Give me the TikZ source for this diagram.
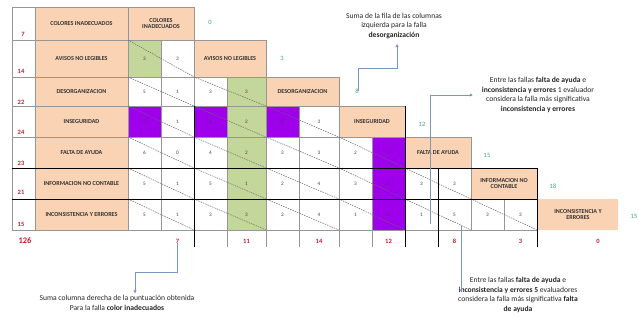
\documentclass[tikz,border=0pt]{standalone}
\usepackage{fontspec}
\setmainfont{Carlito}
\usetikzlibrary{arrows.meta}
\definecolor{orng}{RGB}{250,211,180}
\definecolor{grn}{RGB}{196,215,155}
\definecolor{prp}{RGB}{158,0,236}
\definecolor{gridc}{RGB}{150,150,150}
\definecolor{redn}{RGB}{200,30,45}
\definecolor{grnn}{RGB}{60,165,125}
\definecolor{arrc}{RGB}{120,150,190}
\begin{document}
\begin{tikzpicture}[x=1pt,y=-1pt,
  lbl/.style={font=\fontsize{6.1}{6.8}\selectfont\bfseries, text=black!80, align=center, inner sep=0},
  num/.style={font=\fontsize{5.2}{5.2}\selectfont, text=black!75, inner sep=0},
  rnum/.style={font=\fontsize{6.5}{7}\selectfont\bfseries, text=redn, inner sep=0},
  gnum/.style={font=\fontsize{6.5}{7}\selectfont, text=grnn, inner sep=0},
  note/.style={font=\fontsize{7.6}{9.6}\selectfont, align=center, inner sep=1pt, text=black!85},
  gl/.style={draw=gridc, line width=0.5pt},
  bl/.style={draw=black, line width=0.9pt},
  dg/.style={draw=black!60, dash pattern=on 1.5pt off 1pt, line width=0.5pt},
  arr/.style={draw=arrc, line width=0.8pt, -{Triangle[length=3pt,width=3pt]}}
]
\useasboundingbox (0,0) rectangle (639,327);
\fill[white] (0,0) rectangle (639,327);
% fills
\fill[orng] (35,7) rectangle (128,230);
\fill[orng] (128,7) rectangle (194,40);
\fill[orng] (194,40) rectangle (266,77);
\fill[orng] (266,77) rectangle (339,106);
\fill[orng] (339,106) rectangle (405,137);
\fill[orng] (405,137) rectangle (471,168);
\fill[orng] (471,168) rectangle (537,199);
\fill[orng] (538,199) rectangle (618,230);
\fill[grn] (128,40) rectangle (161,77);
\fill[grn] (227,77) rectangle (266,230);
\fill[prp] (128,106) rectangle (161,137);
\fill[prp] (194,106) rectangle (227,137);
\fill[prp] (266,106) rectangle (299,137);
\fill[prp] (372,137) rectangle (405,230);
% grid
\draw[gl] (12,7) -- (194,7);
\draw[gl] (12,40) -- (266,40);
\draw[gl] (12,77) -- (339,77);
\draw[gl] (12,106) -- (405,106);
\draw[gl] (12,137) -- (471,137);
\draw[gl] (12,230) -- (537,230);
\draw[gl] (12,7) -- (12,230);
\draw[gl] (35,7) -- (35,230);
\draw[gl] (128,7) -- (128,230);
\draw[gl] (161,40) -- (161,230);
\draw[gl] (194,7) -- (194,106);
\draw[gl] (227,77) -- (227,247);
\draw[gl] (266,40) -- (266,247);
\draw[gl] (299,106) -- (299,247);
\draw[gl] (339,77) -- (339,247);
\draw[gl] (372,137) -- (372,247);
\draw[gl] (471,137) -- (471,230);
\draw[gl] (504,199) -- (504,230);
% diagonals
\draw[dg] (128,40) -- (194,77) -- (266,106) -- (339,137) -- (405,168) -- (471,199) -- (537,230);
\draw[dg] (128,77) -- (194,106) -- (266,137) -- (339,168) -- (405,199) -- (471,230);
\draw[dg] (128,106) -- (194,137) -- (266,168) -- (339,199) -- (405,230);
\draw[dg] (128,137) -- (194,168) -- (266,199) -- (339,230);
\draw[dg] (128,168) -- (194,199) -- (266,230);
\draw[dg] (128,199) -- (194,230);
% black lines
\draw[bl] (12,168) -- (537,168);
\draw[bl] (12,199) -- (537,199);
\draw[bl] (194,106) -- (194,247);
\draw[bl] (405,106) -- (405,247);
\draw[bl] (438,168) -- (438,247);
\draw[bl] (537,168) -- (537,247);
% row labels
\node[lbl] (l1) at (81.5,23.5) {COLORES INADECUADOS};
\node[lbl] (l2) at (81.5,58.5) {AVISOS NO LEGIBLES};
\node[lbl] (l3) at (81.5,91.5) {DESORGANIZACION};
\node[lbl] (l4) at (81.5,121.5) {INSEGURIDAD};
\node[lbl] (l5) at (81.5,152.5) {FALTA DE AYUDA};
\node[lbl] (l6) at (81.5,183.5) {INFORMACION NO CONTABLE};
\node[lbl] (l7) at (81.5,214.5) {INCONSISTENCIA Y ERRORES};
% diagonal boxes
\node[lbl] (d1) at (161,23.5) {COLORES\\INADECUADOS};
\node[lbl] (d2) at (230,58.5) {AVISOS NO LEGIBLES};
\node[lbl] (d3) at (302.5,91.5) {DESORGANIZACION};
\node[lbl] (d4) at (372,121.5) {INSEGURIDAD};
\node[lbl] (d5) at (438,152.5) {FALTA DE AYUDA};
\node[lbl] (d6) at (504,183.5) {INFORMACION NO\\CONTABLE};
\node[lbl] (d7) at (578,214.5) {INCONSISTENCIA Y\\ERRORES};
% cell values
\foreach \y/\r/\vals in {58.5/2/{3/3}, 91.5/3/{5/1,3/3}, 121.5/4/{5/1,4/2,3/3},
  152.5/5/{6/0,4/2,3/3,2/4}, 183.5/6/{5/1,5/1,2/4,3/3,3/3},
  214.5/7/{5/1,3/3,2/4,1/5,1/5,3/3}} {
  \foreach [count=\p] \a/\b in \vals {
    \pgfmathsetmacro\xa{{144.5,210.5,282.5,355.5,421.5,487.5}[\p-1]}
    \pgfmathsetmacro\xb{{177.5,246.5,319,388.5,454.5,520.5}[\p-1]}
    \node[num] (c\r-\p-a) at (\xa,\y) {\a};
    \node[num] (c\r-\p-b) at (\xb,\y) {\b};
  }
}
% red totals
\node[rnum] (t1) at (23,34) {7};
\node[rnum] (t2) at (21,71) {14};
\node[rnum] (t3) at (21,102) {22};
\node[rnum] (t4) at (21,132) {24};
\node[rnum] (t5) at (21,163) {23};
\node[rnum] (t6) at (21,192) {21};
\node[rnum] (t7) at (21,224) {15};
\node[rnum, font=\fontsize{8.5}{9}\selectfont\bfseries] (tot) at (25,241) {126};
% column sums
\node[rnum] (s1) at (177.5,241) {7};
\node[rnum] (s2) at (246.5,241) {11};
\node[rnum] (s3) at (319,241) {14};
\node[rnum] (s4) at (388.5,241) {12};
\node[rnum] (s5) at (454.5,241) {8};
\node[rnum] (s6) at (520.5,241) {3};
\node[rnum] (s7) at (598,241) {0};
% green row sums
\node[gnum] (g1) at (210,22) {0};
\node[gnum] (g2) at (282,58) {3};
\node[gnum] (g3) at (357,91) {8};
\node[gnum] (g4) at (422,124) {12};
\node[gnum] (g5) at (487,155) {15};
\node[gnum] (g6) at (553,186) {18};
\node[gnum] (g7) at (634,216) {15};
% notes
\node[note] (nA) at (394,26) {Suma de la fila de las columnas\\izquierda para la falla\\\textbf{desorganización}};
\node[note] (nB) at (538,95) {Entre las fallas \textbf{falta de ayuda} e\\\textbf{inconsistencia y errores} 1 evaluador\\considera la falla más significativa\\\textbf{inconsistencia y errores}};
\node[note] (nC) at (518,295) {Entre las fallas \textbf{falta de ayuda} e\\\textbf{inconsistencia y errores 5} evaluadores\\considera la falla más significativa \textbf{falta}\\\textbf{de ayuda}};
\node[note] (nD) at (117,303) {Suma columna derecha de la puntuación obtenida\\Para la falla \textbf{color inadecuados}};
% connectors
\coordinate (a2) at (397,68);
\draw[arr, shorten >=4pt] (g3.east) |- (a2) -- (a2 |- nA.south);
\coordinate (bS) at (430,224);
\draw[arr, shorten >=8pt] (bS) |- (nB.west);
\coordinate (cS) at (461,226);
\draw[arr, shorten >=2pt] (cS) |- ([yshift=4.8pt]nC.west);
\coordinate (dM) at (135,272);
\draw[arr, shorten >=1pt] (s1.south) |- (dM) -- (dM |- nD.north);
\end{tikzpicture}
\end{document}
